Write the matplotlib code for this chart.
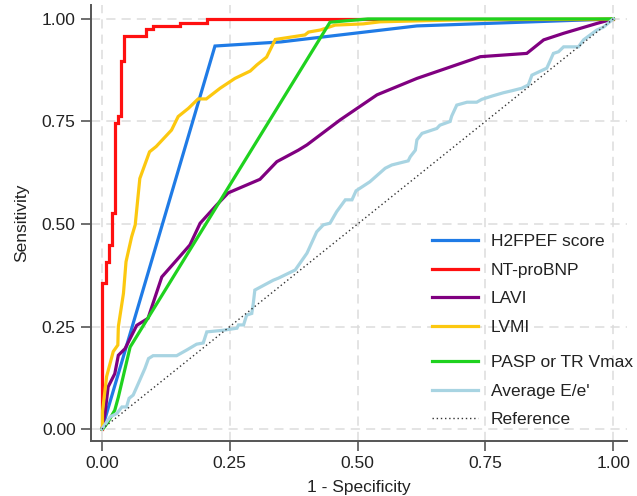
import matplotlib
matplotlib.use("Agg")
import matplotlib.pyplot as plt

plt.rcParams['font.family'] = ['Liberation Sans', 'DejaVu Sans']

# ---------------- data ----------------
h2_fpr = [0, 0.221, 0.35, 0.616, 1.0]
h2_tpr = [0, 0.934, 0.944, 0.983, 1.0]

nt_fpr = [0, 0, 0.007, 0.007, 0.014, 0.014, 0.020, 0.020, 0.026, 0.026, 0.031, 0.031,
          0.037, 0.037, 0.044, 0.044, 0.087, 0.087, 0.099, 0.099, 0.153, 0.153, 0.205, 0.205, 1.0]
nt_tpr = [0, 0.357, 0.357, 0.407, 0.407, 0.449, 0.449, 0.527, 0.527, 0.746, 0.746, 0.763,
          0.763, 0.898, 0.898, 0.959, 0.959, 0.976, 0.976, 0.983, 0.983, 0.991, 0.991, 1.0, 1.0]

lavi_fpr = [0, 0.006, 0.012, 0.025, 0.032, 0.045, 0.068, 0.090, 0.117, 0.146, 0.172, 0.192,
            0.224, 0.247, 0.309, 0.342, 0.384, 0.401, 0.466, 0.538, 0.616, 0.740, 0.831,
            0.864, 0.903, 0.968, 1.0]
lavi_tpr = [0, 0.039, 0.103, 0.135, 0.180, 0.196, 0.253, 0.270, 0.371, 0.412, 0.449, 0.502,
            0.546, 0.576, 0.609, 0.652, 0.680, 0.693, 0.754, 0.815, 0.855, 0.908, 0.916,
            0.949, 0.965, 0.989, 1.0]

lvmi_fpr = [0, 0.001, 0.001, 0.009, 0.022, 0.031, 0.032, 0.042, 0.047, 0.058, 0.065, 0.074,
            0.093, 0.106, 0.136, 0.149, 0.169, 0.188, 0.204, 0.231, 0.260, 0.290, 0.303,
            0.322, 0.339, 0.355, 0.397, 0.404, 0.427, 0.456, 0.511, 0.544, 0.706, 1.0]
lvmi_tpr = [0, 0.006, 0.042, 0.128, 0.189, 0.205, 0.250, 0.331, 0.408, 0.469, 0.498, 0.611,
            0.676, 0.689, 0.729, 0.762, 0.782, 0.805, 0.805, 0.831, 0.855, 0.873, 0.888,
            0.907, 0.950, 0.953, 0.961, 0.968, 0.973, 0.985, 0.988, 0.993, 0.998, 1.0]

pasp_fpr = [0, 0.003, 0.012, 0.025, 0.032, 0.055, 0.446, 0.52, 1.0]
pasp_tpr = [0, 0.002, 0.018, 0.046, 0.078, 0.200, 0.992, 1.0, 1.0]

ee_fpr = [0, 0.003, 0.016, 0.029, 0.039, 0.048, 0.053, 0.061, 0.071, 0.084, 0.091, 0.100,
          0.146, 0.166, 0.185, 0.198, 0.205, 0.237, 0.264, 0.267, 0.277, 0.283, 0.293,
          0.296, 0.299, 0.335, 0.345, 0.378, 0.401, 0.420, 0.433, 0.446, 0.459, 0.476,
          0.489, 0.497, 0.524, 0.554, 0.567, 0.599, 0.603, 0.613, 0.616, 0.626, 0.655,
          0.661, 0.681, 0.684, 0.694, 0.714, 0.733, 0.743, 0.763, 0.785, 0.802, 0.821,
          0.834, 0.841, 0.870, 0.873, 0.883, 0.893, 0.903, 0.932, 0.942, 0.968, 0.981, 1.0]
ee_tpr = [0, 0.006, 0.030, 0.038, 0.054, 0.054, 0.075, 0.083, 0.111, 0.148, 0.172, 0.179,
          0.179, 0.193, 0.207, 0.210, 0.237, 0.241, 0.246, 0.254, 0.254, 0.278, 0.282,
          0.307, 0.339, 0.363, 0.368, 0.388, 0.429, 0.481, 0.498, 0.502, 0.530, 0.559,
          0.559, 0.581, 0.603, 0.636, 0.644, 0.654, 0.664, 0.680, 0.705, 0.721, 0.733,
          0.741, 0.750, 0.763, 0.790, 0.797, 0.797, 0.804, 0.812, 0.820, 0.825, 0.831,
          0.839, 0.863, 0.880, 0.888, 0.916, 0.920, 0.932, 0.932, 0.949, 0.973, 0.980, 1.0]

ref_x = [0, 1]
ref_y = [0, 1]

ticks = [0, 0.25, 0.5, 0.75, 1.0]
tick_labels = ["0.00", "0.25", "0.50", "0.75", "1.00"]

labels = ["H2FPEF score", "NT-proBNP", "LAVI", "LVMI", "PASP or TR Vmax", "Average E/e'", "Reference"]
colors = ["#1f7be6", "#ff1010", "#800080", "#fcc80f", "#1fd21f", "#a8d4e2", "#333333"]

# ---------------- figure ----------------
fig = plt.figure(figsize=(6.37, 4.96), dpi=100)
ax = fig.add_axes([91/637, 55/496, (627-91)/637, (441-5)/496])

ax.set_xlim(-0.0215, 1.027)
ax.set_ylim(-0.029, 1.034)

for t in ticks:
    ax.axvline(t, color="#dcdcdc", lw=1.1, ls=(0, (6, 4)), zorder=0)
    ax.axhline(t, color="#dcdcdc", lw=1.1, ls=(0, (6, 4)), zorder=0)

series = [(h2_fpr, h2_tpr), (nt_fpr, nt_tpr), (lavi_fpr, lavi_tpr), (lvmi_fpr, lvmi_tpr),
          (pasp_fpr, pasp_tpr), (ee_fpr, ee_tpr)]
handles = []
for (xs, ys), c, lab in zip(series, colors[:6], labels[:6]):
    h, = ax.plot(xs, ys, color=c, lw=2.3, label=lab, solid_joinstyle='miter', zorder=2)
    handles.append(h)
hr, = ax.plot(ref_x, ref_y, color=colors[6], lw=1.0, ls=(0, (1, 2)), label=labels[6], zorder=3)
handles.append(hr)

for s in ["top", "right"]:
    ax.spines[s].set_visible(False)
for s in ["left", "bottom"]:
    ax.spines[s].set_color("#555555")
    ax.spines[s].set_linewidth(1.4)

ax.set_xticks(ticks)
ax.set_xticklabels(tick_labels)
ax.set_yticks(ticks)
ax.set_yticklabels(tick_labels)
ax.tick_params(axis="both", direction="out", length=7, width=1.2, color="#555555",
               labelsize=12.5, labelcolor="#222222", pad=4)

ax.set_xlabel("1 - Specificity", fontsize=12.5, color="#222222", labelpad=6)
ax.set_ylabel("Sensitivity", fontsize=12.5, color="#222222", labelpad=9)

leg_kw = dict(frameon=False, fontsize=12.5, handlelength=2.65, handletextpad=0.75,
              labelspacing=0.77, borderpad=0, borderaxespad=0)
leg1 = ax.legend(handles[:4], labels[:4], loc="upper left",
                 bbox_to_anchor=((432-91)/536, (441-234)/436), **leg_kw)
for t in leg1.get_texts():
    t.set_color("#222222")
ax.add_artist(leg1)
leg2 = ax.legend(handles[4:], labels[4:], loc="upper left",
                 bbox_to_anchor=((432-91)/536, (441-355)/436), **leg_kw)
for t in leg2.get_texts():
    t.set_color("#222222")

fig.savefig("out.png", dpi=100, facecolor="white")
